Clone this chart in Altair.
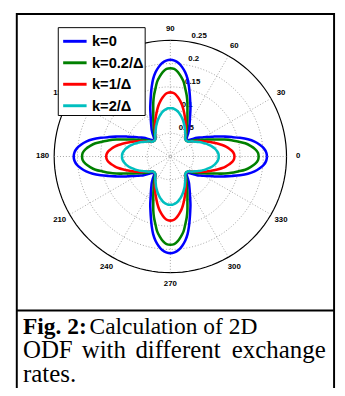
import altair as alt
import pandas as pd

# ---- data: radius vs. angle 0..45 deg in 2.5 deg steps
#      (the curves are symmetric about 45 deg and 4-fold symmetric) ----
series = ["k=0", "k=0.2/Δ", "k=1/Δ", "k=2/Δ"]
colors = ["#0000ff", "#008000", "#ff0000", "#00bfbf"]
angle_step = 2.5
r_k0 = [0.208, 0.2065, 0.202, 0.194, 0.184, 0.171, 0.155, 0.139, 0.125, 0.113,
        0.101, 0.091, 0.083, 0.076, 0.070, 0.063, 0.056, 0.0515, 0.049]
r_k02 = [0.190, 0.1887, 0.183, 0.174, 0.1636, 0.149, 0.136, 0.122, 0.1075, 0.096,
         0.0865, 0.078, 0.0714, 0.0657, 0.060, 0.055, 0.051, 0.049, 0.0485]
r_k1 = [0.138, 0.137, 0.1337, 0.128, 0.1216, 0.1145, 0.1066, 0.0987, 0.0912, 0.0845,
        0.078, 0.072, 0.066, 0.061, 0.0564, 0.052, 0.050, 0.0495, 0.049]
r_k2 = [0.104, 0.1039, 0.1025, 0.1002, 0.0973, 0.0937, 0.0897, 0.0855, 0.0813, 0.0765,
        0.0725, 0.0677, 0.0637, 0.0597, 0.0568, 0.0528, 0.0497, 0.049, 0.0485]
ring_values = [0.05, 0.1, 0.15, 0.2]
r_max = 0.25
angle_ticks = [0, 30, 60, 90, 120, 150, 180, 210, 240, 270, 300, 330]
spoke_angles = [0, 30, 60, 90, 120, 150]
radial_ticks = [0.05, 0.1, 0.15, 0.2, 0.25]
caption_bold = "Fig. 2:"
caption_line1 = "Calculation of 2D"
caption_line2 = ["ODF", "with", "different", "exchange"]
caption_line3 = "rates."

# ---- assemble tables ----
rows = []
for name, half in zip(series, [r_k0, r_k02, r_k1, r_k2]):
    n = len(half) - 1          # index of 45 deg
    per_quadrant = 2 * n       # points per 90 deg
    i = 0
    for q in range(4):
        for k in range(per_quadrant):
            kk = k if k <= n else per_quadrant - k
            rows.append({"series": name, "theta": 90 * q + k * angle_step, "r": half[kk], "i": i})
            i += 1
    rows.append({"series": name, "theta": 360.0, "r": half[0], "i": i})
curves = pd.DataFrame(rows)

ring_rows = []
for rv in ring_values + [r_max]:
    for j, t in enumerate(range(0, 361, 3)):
        ring_rows.append({"ring": rv, "theta": t, "i": j})
rings = pd.DataFrame(ring_rows)

spokes = pd.DataFrame({"theta": spoke_angles})
alabels = pd.DataFrame({"theta": angle_ticks, "label": [str(a) for a in angle_ticks]})
rlabels = pd.DataFrame({"v": radial_ticks, "label": [f"{v:g}" for v in radial_ticks]})

# ---- geometry of the polar frame (pixels inside the chart) ----
cx, cy, R = 166.3, 147.5, 119.0
xs = alt.Scale(domain=[-r_max, r_max], range=[cx - R, cx + R])
ys = alt.Scale(domain=[-r_max, r_max], range=[cy + R, cy - R])
X = lambda f: alt.X(f, type="quantitative", scale=xs, axis=None)
Y = lambda f: alt.Y(f, type="quantitative", scale=ys, axis=None)

ring_base = alt.Chart(rings).transform_calculate(
    x="datum.ring*cos(datum.theta*PI/180)", y="datum.ring*sin(datum.theta*PI/180)"
)
inner_rings = ring_base.transform_filter(f"datum.ring < {r_max}").mark_line(
    color="#8c8c8c", strokeWidth=0.8, strokeDash=[1, 2]
).encode(x=X("x"), y=Y("y"), detail="ring:N", order="i:Q")
outer_ring = ring_base.transform_filter(f"datum.ring >= {r_max}").mark_line(
    color="black", strokeWidth=1.2
).encode(x=X("x"), y=Y("y"), order="i:Q")

spoke_layer = alt.Chart(spokes).transform_calculate(
    x=f"-{r_max}*cos(datum.theta*PI/180)", y=f"-{r_max}*sin(datum.theta*PI/180)",
    x2=f"{r_max}*cos(datum.theta*PI/180)", y2=f"{r_max}*sin(datum.theta*PI/180)",
).mark_rule(color="#8c8c8c", strokeWidth=0.8, strokeDash=[1, 2]).encode(
    x=X("x"), y=Y("y"), x2="x2:Q", y2="y2:Q"
)

angle_text = alt.Chart(alabels).transform_calculate(
    x=f"{1.1 * r_max}*cos(datum.theta*PI/180)", y=f"{1.1 * r_max}*sin(datum.theta*PI/180)"
).mark_text(font="Liberation Sans", fontWeight="bold", fontSize=8, align="center",
            baseline="middle", color="black").encode(x=X("x"), y=Y("y"), text="label:N")

radial_text = alt.Chart(rlabels).transform_calculate(
    x="(datum.v+0.0025)*cos(82*PI/180)", y="(datum.v+0.0025)*sin(82*PI/180)"
).mark_text(font="Liberation Sans", fontWeight="bold", fontSize=8, align="left",
            baseline="bottom", dx=5, color="black").encode(x=X("x"), y=Y("y"), text="label:N")

curve_layer = alt.Chart(curves).transform_calculate(
    x="datum.r*cos(datum.theta*PI/180)", y="datum.r*sin(datum.theta*PI/180)"
).mark_line(strokeWidth=2.6, interpolate="catmull-rom").encode(
    x=X("x"), y=Y("y"), order="i:Q",
    color=alt.Color("series:N", scale=alt.Scale(domain=series, range=colors),
                    sort=series,
                    legend=alt.Legend(title=None, orient="none", legendX=51, legendY=15,
                                      strokeColor="black", fillColor="white", padding=1,
                                      symbolType="stroke", symbolSize=576, symbolStrokeWidth=3,
                                      symbolOffset=3, labelFont="Liberation Sans",
                                      labelFontSize=15, labelFontWeight="bold",
                                      labelColor="black", labelOffset=4, rowPadding=-3,
                                      labelLimit=0)),
)

one = pd.DataFrame({"a": [0]})
frame = alt.Chart(one).mark_rect(
    filled=False, stroke="black", strokeWidth=2
).encode(x=alt.value(9), x2=alt.value(334), y=alt.value(1.5), y2=alt.value(395))
separator = alt.Chart(one).mark_rule(color="black", strokeWidth=2).encode(
    x=alt.value(9), x2=alt.value(334), y=alt.value(305.3))


def cap(text, x, y, size, align="left", bold=False):
    extra = {"fontWeight": "bold"} if bold else {}
    return alt.Chart(pd.DataFrame({"t": [text]})).mark_text(
        align=align, font="Liberation Serif", fontSize=size, baseline="alphabetic",
        color="black", **extra
    ).encode(x=alt.value(x), y=alt.value(y), text="t:N")


caption = [
    cap(caption_bold, 15.3, 329, 24, bold=True),
    cap(caption_line1, 83.5, 329, 24),
    cap(caption_line2[0], 15.3, 353.5, 25.5),
    cap(caption_line2[1], 75.5, 353.5, 25.5),
    cap(caption_line2[2], 130.5, 353.5, 25.5),
    cap(caption_line2[3], 325.4, 353.5, 25.5, align="right"),
    cap(caption_line3, 15.3, 378, 25.5),
]

chart = alt.layer(
    inner_rings, outer_ring, spoke_layer, angle_text, radial_text, curve_layer,
    frame, separator, *caption
).properties(width=337, height=380, padding=0, autosize="none").configure_view(stroke=None)

chart.save("out.html", embed_options={"renderer": "svg", "actions": False})
